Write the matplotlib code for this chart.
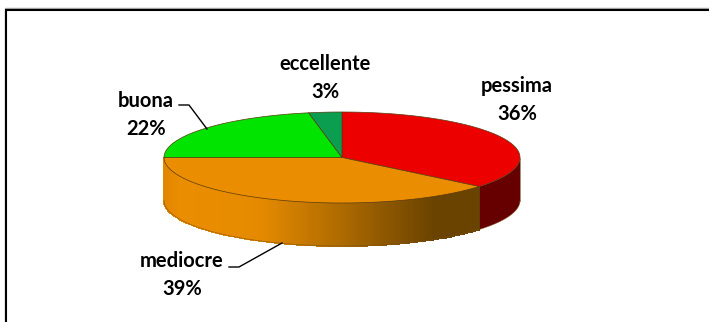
import numpy as np
import matplotlib
matplotlib.use("Agg")
import matplotlib.pyplot as plt
from matplotlib.colors import LinearSegmentedColormap
from matplotlib.patches import Polygon

labels = ["pessima", "mediocre", "buona", "eccellente"]
values = [36, 39, 22, 3]
top_colors = ["#EC0000", "#EB8D00", "#00E400", "#0C9E50"]
side_colors = ["#660000", "#EB8D00", "#00A000", "#087038"]
label_xy = [(517, 100), (182, 275), (146, 114.5), (325.5, 77.5)]
leader_lines = [None, [(229, 267), (239, 267), (282, 243)], [(179, 105), (189, 105), (207, 129)], None]

W, H = 709, 322
CX, CY, RX, RY, DEPTH = 342, 157.5, 178, 45.5, 43

fig = plt.figure(figsize=(W / 100, H / 100), dpi=100)
ax = fig.add_axes([0, 0, 1, 1])
ax.set_xlim(0, W)
ax.set_ylim(H, 0)
ax.axis("off")

# Frame: only the top and left edges fall inside the picture
ax.plot([4.5, 4.5, W], [H, 8, 8], color="#A8A8A8", lw=1.0, solid_joinstyle="miter", zorder=1)
ax.plot([6, 6, W], [H, 9.5, 9.5], color="black", lw=1.5, solid_joinstyle="miter", zorder=1)

fractions = np.cumsum([0] + values) / sum(values) * 2 * np.pi


def rim(theta):
    return CX + RX * np.sin(theta), CY - RY * np.cos(theta)


shade = LinearSegmentedColormap.from_list(
    "shade", [(0, "#E28700"), (0.05, "#EB8D00"), (0.3, "#E58A00"), (0.55, "#B06C00"), (0.85, "#6B4300"), (1, "#6B4300")]
)
edge = "#5A3A10"

# Side wall of the front half
for i, (a, b) in enumerate(zip(fractions[:-1], fractions[1:])):
    lo, hi = max(a, np.pi / 2), min(b, 3 * np.pi / 2)
    if hi <= lo:
        continue
    t = np.linspace(lo, hi, 200)
    x, y = rim(t)
    if labels[i] == "mediocre":
        xs = np.vstack([x, x])
        ys = np.vstack([y, y + DEPTH])
        cs = (x[:-1] + x[1:]) / 2
        ax.pcolormesh(xs, ys, ((cs - (CX - RX)) / (x.max() - (CX - RX)))[None, :],
                      cmap=shade, vmin=0, vmax=1, shading="flat", rasterized=True, zorder=2,
                      edgecolors="face", linewidth=0.3)
    else:
        ax.add_patch(Polygon(np.r_[np.c_[x, y], np.c_[x[::-1], y[::-1] + DEPTH]],
                             fc=side_colors[i], ec="none", zorder=2))
    ax.plot(x, y + DEPTH, color="#7A5010", lw=0.5, alpha=0.7, zorder=3)
    ax.plot([x[0], x[0]], [y[0], y[0] + DEPTH], color=edge, lw=0.4, zorder=3)

# Top face
for a, b, c in zip(fractions[:-1], fractions[1:], top_colors):
    x, y = rim(np.linspace(a, b, 200))
    ax.add_patch(Polygon(np.r_[[[CX, CY]], np.c_[x, y]], fc=c, ec=edge, lw=0.5, joinstyle="round", zorder=4))

for lab, v, (lx, ly), line in zip(labels, values, label_xy, leader_lines):
    ax.text(lx, ly, f"{lab}\n{v}%", ha="center", va="center", family="Lato", fontweight="bold",
            fontsize=14.5, color="black", linespacing=1.5, zorder=6)
    if line:
        ax.plot(*zip(*line), color="black", lw=1.0, zorder=6)

fig.savefig("out.png", dpi=100)
